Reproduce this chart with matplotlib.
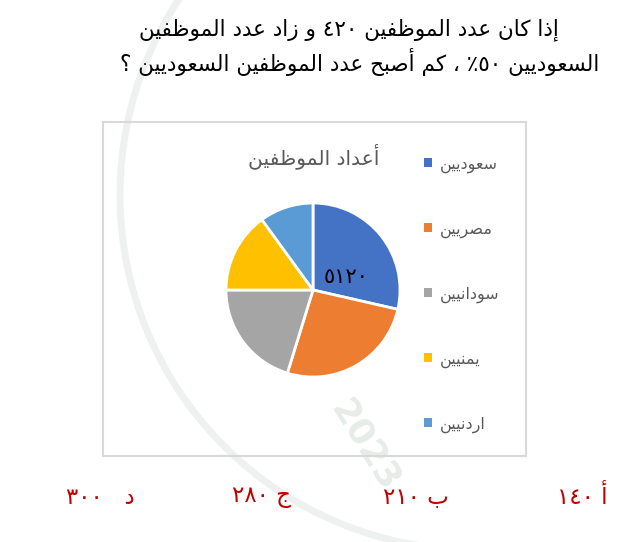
import re
import matplotlib
matplotlib.use("Agg")
import matplotlib.pyplot as plt
from matplotlib.patches import Rectangle, Arc

# ---------------- data ----------------
question_lines = [
    "إذا كان عدد الموظفين ٤٢٠ و زاد عدد الموظفين",
    "السعوديين ٥٠٪ ، كم أصبح عدد الموظفين السعوديين ؟",
]
chart_title = "أعداد الموظفين"
categories = ["سعوديين", "مصريين", "سودانيين", "يمنيين", "اردنيين"]
values = [120, 110, 85, 63, 42]
colors = ["#4472C4", "#ED7D31", "#A5A5A5", "#FFC000", "#5B9BD5"]
slice_label = "٥١٢٠"
choice_letters = ["أ", "ب", "ج", "د"]
choice_values = ["١٤٠", "٢١٠", "٢٨٠", "٣٠٠"]
choice_gaps = [" ", " ", " ", "   "]

# ---------------- minimal Arabic shaping ----------------
# (isolated, final, initial, medial)
F = {
    '\u0621': ('\uFE80', None, None, None),
    '\u0622': ('\uFE81', '\uFE82', None, None),
    '\u0623': ('\uFE83', '\uFE84', None, None),
    '\u0624': ('\uFE85', '\uFE86', None, None),
    '\u0625': ('\uFE87', '\uFE88', None, None),
    '\u0626': ('\uFE89', '\uFE8A', '\uFE8B', '\uFE8C'),
    '\u0627': ('\uFE8D', '\uFE8E', None, None),
    '\u0628': ('\uFE8F', '\uFE90', '\uFE91', '\uFE92'),
    '\u0629': ('\uFE93', '\uFE94', None, None),
    '\u062A': ('\uFE95', '\uFE96', '\uFE97', '\uFE98'),
    '\u062B': ('\uFE99', '\uFE9A', '\uFE9B', '\uFE9C'),
    '\u062C': ('\uFE9D', '\uFE9E', '\uFE9F', '\uFEA0'),
    '\u062D': ('\uFEA1', '\uFEA2', '\uFEA3', '\uFEA4'),
    '\u062E': ('\uFEA5', '\uFEA6', '\uFEA7', '\uFEA8'),
    '\u062F': ('\uFEA9', '\uFEAA', None, None),
    '\u0630': ('\uFEAB', '\uFEAC', None, None),
    '\u0631': ('\uFEAD', '\uFEAE', None, None),
    '\u0632': ('\uFEAF', '\uFEB0', None, None),
    '\u0633': ('\uFEB1', '\uFEB2', '\uFEB3', '\uFEB4'),
    '\u0634': ('\uFEB5', '\uFEB6', '\uFEB7', '\uFEB8'),
    '\u0635': ('\uFEB9', '\uFEBA', '\uFEBB', '\uFEBC'),
    '\u0636': ('\uFEBD', '\uFEBE', '\uFEBF', '\uFEC0'),
    '\u0637': ('\uFEC1', '\uFEC2', '\uFEC3', '\uFEC4'),
    '\u0638': ('\uFEC5', '\uFEC6', '\uFEC7', '\uFEC8'),
    '\u0639': ('\uFEC9', '\uFECA', '\uFECB', '\uFECC'),
    '\u063A': ('\uFECD', '\uFECE', '\uFECF', '\uFED0'),
    '\u0641': ('\uFED1', '\uFED2', '\uFED3', '\uFED4'),
    '\u0642': ('\uFED5', '\uFED6', '\uFED7', '\uFED8'),
    '\u0643': ('\uFED9', '\uFEDA', '\uFEDB', '\uFEDC'),
    '\u0644': ('\uFEDD', '\uFEDE', '\uFEDF', '\uFEE0'),
    '\u0645': ('\uFEE1', '\uFEE2', '\uFEE3', '\uFEE4'),
    '\u0646': ('\uFEE5', '\uFEE6', '\uFEE7', '\uFEE8'),
    '\u0647': ('\uFEE9', '\uFEEA', '\uFEEB', '\uFEEC'),
    '\u0648': ('\uFEED', '\uFEEE', None, None),
    '\u0649': ('\uFEEF', '\uFEF0', None, None),
    '\u064A': ('\uFEF1', '\uFEF2', '\uFEF3', '\uFEF4'),
}
LAMALEF = {'\u0622': ('\uFEF5', '\uFEF6'), '\u0623': ('\uFEF7', '\uFEF8'),
           '\u0625': ('\uFEF9', '\uFEFA'), '\u0627': ('\uFEFB', '\uFEFC')}


def shape(s):
    out = []
    n = len(s)
    i = 0
    while i < n:
        c = s[i]
        if c not in F:
            out.append(c)
            i += 1
            continue
        p = s[i - 1] if i > 0 else ''
        prev_j = p in F and F[p][2] is not None
        if c == '\u0644' and i + 1 < n and s[i + 1] in LAMALEF:
            out.append(LAMALEF[s[i + 1]][1 if prev_j else 0])
            i += 2
            continue
        nx = s[i + 1] if i + 1 < n else ''
        next_j = F[c][2] is not None and nx in F
        iso, fin, ini, med = F[c]
        if prev_j and next_j:
            out.append(med)
        elif prev_j:
            out.append(fin or iso)
        elif next_j:
            out.append(ini)
        else:
            out.append(iso)
        i += 1
    return ''.join(out)


def ar(s):
    v = shape(s)[::-1]
    return re.sub(r'[0-9\u0660-\u0669]+', lambda m: m.group(0)[::-1], v)


# ---------------- figure ----------------
W, H = 625, 542
plt.rcParams['font.family'] = ['DejaVu Sans']
fig = plt.figure(figsize=(W / 100, H / 100), dpi=100)
fig.patch.set_facecolor('white')


def P(x, y):
    return (x / W, 1 - y / H)


# faint background watermark
bg = fig.add_axes([0, 0, 1, 1], zorder=-5)
bg.set_xlim(0, W)
bg.set_ylim(H, 0)
bg.axis('off')
bg.add_patch(Arc((475, 195), 710, 710, theta1=90, theta2=270, color='#EEF1EF', lw=5))
bg.text(365, 445, "2023", rotation=-58, fontsize=26, color='#E8ECE9', ha='center', va='center',
        fontweight='bold')

# question
fig.text(*P(349, 30), ar(question_lines[0]), ha='center', va='center', fontsize=15.5, color='black')
fig.text(*P(360, 62), ar(question_lines[1]), ha='center', va='center', fontsize=15.5, color='black')

# chart box
x0, y0, x1, y1 = 103, 122, 526, 456
fig.patches.append(Rectangle(P(x0, y1), (x1 - x0) / W, (y1 - y0) / H, transform=fig.transFigure,
                             fill=False, edgecolor='#D9D9D9', linewidth=1.5))

fig.text(*P(314, 156), ar(chart_title), ha='center', va='center', fontsize=14.5, color='#595959')

# pie
cx, cy, r = 313, 290, 87
ax = fig.add_axes([(cx - r) / W, 1 - (cy + r) / H, 2 * r / W, 2 * r / H])
wedges, _ = ax.pie(values, colors=colors, startangle=90, counterclock=False,
                   wedgeprops=dict(edgecolor='white', linewidth=2))
ax.set_xlim(-1, 1)
ax.set_ylim(-1, 1)
ax.text(0.38, 0.15, slice_label, ha='center', va='center', fontsize=15, color='black')

leg = fig.legend(wedges, [ar(c) for c in categories], loc='upper left',
                 bbox_to_anchor=P(410, 142), frameon=False, fontsize=11.5,
                 labelspacing=3.05, handlelength=0.5, handleheight=0.5, handletextpad=0.5,
                 labelcolor='#595959')
for h in leg.legend_handles:
    h.set_edgecolor('none')

# answer choices
choice_x = [582, 416, 262, 100]
for x, l, g, v in zip(choice_x, choice_letters, choice_gaps, choice_values):
    fig.text(*P(x, 497), ar(l + g + v), ha='center', va='center', fontsize=16.5, color='#C00000')

fig.savefig('out.png', dpi=100)
